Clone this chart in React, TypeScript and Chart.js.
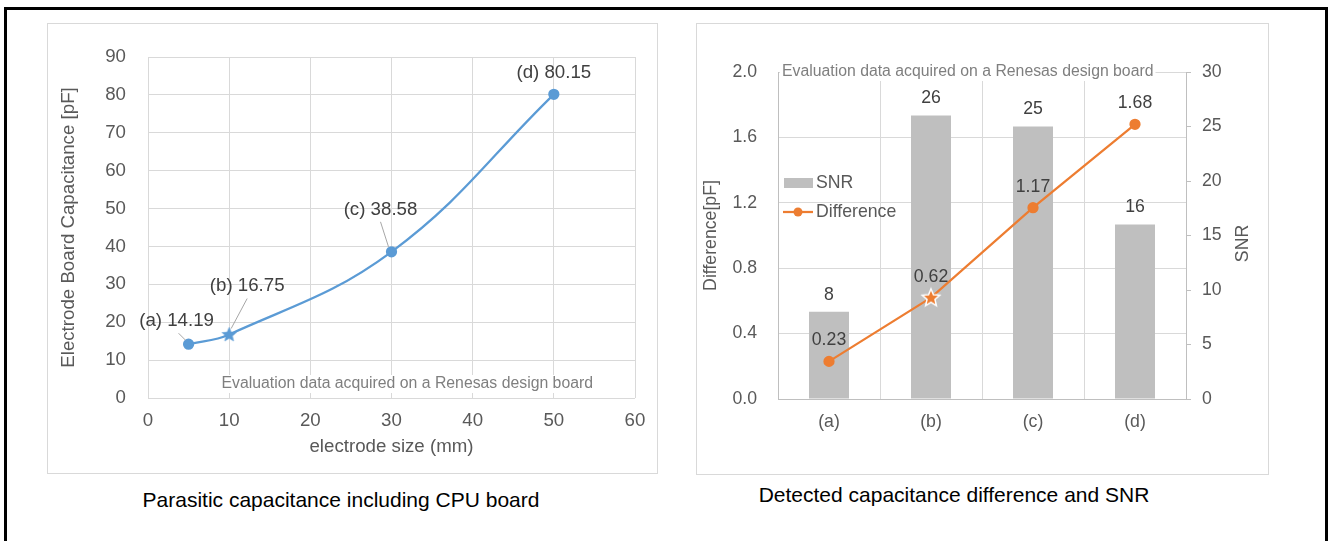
import React, { useEffect, useRef } from 'react';
import { Chart, registerables } from 'chart.js';

Chart.register(...registerables);

const FONT = '"Liberation Sans", Arial, Helvetica, sans-serif';
Chart.defaults.font.family = FONT;
Chart.defaults.color = '#595959';

// ---- data: left chart (parasitic capacitance) ----
const sizeMm = [5, 10, 30, 50];
const boardCapacitance = [14.19, 16.75, 38.58, 80.15];
const pointTags = ['(a)', '(b)', '(c)', '(d)'];

// ---- data: right chart (difference & SNR) ----
const categories = ['(a)', '(b)', '(c)', '(d)'];
const snrValues = [8, 26, 25, 16];
const differenceValues = [0.23, 0.62, 1.17, 1.68];

const starredIndex = 1;
const noteText = 'Evaluation data acquired on a Renesas design board';
const leftCaption = 'Parasitic capacitance including CPU board';
const rightCaption = 'Detected capacitance difference and SNR';
const snrAxisTitle = 'SNR';

// ---- styles ----
const BLUE = '#5B9BD5';
const ORANGE = '#ED7D31';
const BAR_GRAY = '#BFBFBF';
const GRID = '#D9D9D9';
const AXIS = '#BFBFBF';
const LABEL = '#404040';
const NOTE = '#7F7F7F';

const leftLabelPlacement = [
  { dx: -12, dy: -23, leader: [-10, -11, -3, -4] },
  { dx: 18, dy: -49, leader: [18, -36, 2, -6] },
  { dx: -11, dy: -42, leader: [-11, -30, -3, -5] },
  { dx: 0, dy: -21, leader: null as null | number[] },
];

function makeStar(outer: number, fill: string, stroke: string, lw: number) {
  const pad = lw + 1;
  const size = Math.ceil(outer * 2 + pad * 2);
  const c = document.createElement('canvas');
  c.width = size;
  c.height = size;
  const ctx = c.getContext('2d')!;
  const cx = size / 2;
  const cy = size / 2 + outer * 0.05;
  const inner = outer * 0.45;
  ctx.beginPath();
  for (let k = 0; k < 10; k++) {
    const r = k % 2 === 0 ? outer : inner;
    const a = -Math.PI / 2 + (k * Math.PI) / 5;
    const x = cx + r * Math.cos(a);
    const y = cy + r * Math.sin(a);
    if (k === 0) ctx.moveTo(x, y);
    else ctx.lineTo(x, y);
  }
  ctx.closePath();
  ctx.fillStyle = fill;
  ctx.fill();
  if (lw > 0) {
    ctx.strokeStyle = stroke;
    ctx.lineWidth = lw;
    ctx.lineJoin = 'miter';
    ctx.stroke();
  }
  return c;
}

export default function App() {
  const leftRef = useRef<HTMLCanvasElement | null>(null);
  const rightRef = useRef<HTMLCanvasElement | null>(null);

  useEffect(() => {
    const leftFont = 18.7;
    const rightFont = 17.7;
    const noteFont = 15.8;

    const blueStar = makeStar(7.6, BLUE, BLUE, 0.5);
    const orangeStar = makeStar(9.2, ORANGE, '#FFFFFF', 1.5);

    const leftPlugin = {
      id: 'leftAnnotations',
      beforeDatasetsDraw(chart: any) {
        const { ctx, chartArea } = chart;
        ctx.save();
        ctx.font = `${noteFont}px ${FONT}`;
        const w = ctx.measureText(noteText).width;
        const xR = chartArea.right - 42;
        const yC = chartArea.bottom - 14;
        ctx.fillStyle = '#FFFFFF';
        ctx.fillRect(xR - w - 2, yC - 9, w + 4, 18);
        ctx.fillStyle = NOTE;
        ctx.textAlign = 'right';
        ctx.textBaseline = 'middle';
        ctx.fillText(noteText, xR, yC);
        ctx.restore();
      },
      afterDatasetsDraw(chart: any) {
        const { ctx } = chart;
        const meta = chart.getDatasetMeta(0);
        ctx.save();
        ctx.font = `${leftFont}px ${FONT}`;
        ctx.textAlign = 'center';
        ctx.textBaseline = 'middle';
        meta.data.forEach((pt: any, i: number) => {
          const p = leftLabelPlacement[i];
          const l = p.leader;
          if (l) {
            ctx.strokeStyle = '#A6A6A6';
            ctx.lineWidth = 1;
            ctx.beginPath();
            ctx.moveTo(pt.x + l[0], pt.y + l[1]);
            ctx.lineTo(pt.x + l[2], pt.y + l[3]);
            ctx.stroke();
          }
          ctx.fillStyle = LABEL;
          ctx.fillText(`${pointTags[i]} ${boardCapacitance[i].toFixed(2)}`, pt.x + p.dx, pt.y + p.dy);
        });
        ctx.restore();
      },
    };

    const left = new Chart(leftRef.current!, {
      type: 'scatter',
      data: {
        datasets: [
          {
            label: 'Electrode Board Capacitance',
            data: sizeMm.map((x, i) => ({ x, y: boardCapacitance[i] })),
            showLine: true,
            borderColor: BLUE,
            backgroundColor: BLUE,
            borderWidth: 2.25,
            tension: 0.4,
            pointRadius: 4.5,
            pointBackgroundColor: BLUE,
            pointBorderColor: BLUE,
            pointStyle: sizeMm.map((_, i) => (i === starredIndex ? blueStar : 'circle')) as any,
          },
        ],
      },
      options: {
        animation: false,
        responsive: false,
        events: [],
        layout: { padding: { left: 0, top: 34, right: 23, bottom: 0 } },
        plugins: { legend: { display: false }, tooltip: { enabled: false } },
        scales: {
          x: {
            type: 'linear',
            min: 0,
            max: 60,
            ticks: { stepSize: 10, padding: 12, color: '#595959', font: { size: leftFont } },
            grid: { color: GRID, drawTicks: false },
            border: { display: false },
            title: {
              display: true,
              text: 'electrode size (mm)',
              color: '#595959',
              font: { size: leftFont },
              padding: { top: 0, bottom: 16 },
            },
            afterFit: (s: any) => {
              s.height = 76;
              s.paddingLeft = 0;
              s.paddingRight = 0;
            },
          },
          y: {
            type: 'linear',
            min: 0,
            max: 90,
            ticks: { stepSize: 10, padding: 22, color: '#595959', font: { size: leftFont } },
            grid: { color: GRID, drawTicks: false },
            border: { display: false },
            title: {
              display: true,
              text: 'Electrode Board Capacitance [pF]',
              color: '#595959',
              font: { size: leftFont },
              padding: { top: 11, bottom: 0 },
            },
            afterFit: (s: any) => {
              s.width = 101;
              s.paddingTop = 0;
              s.paddingBottom = 0;
            },
          },
        },
      } as any,
      plugins: [leftPlugin],
    });

    const rightPlugin = {
      id: 'rightAnnotations',
      beforeDatasetsDraw(chart: any) {
        const { ctx, chartArea } = chart;
        ctx.save();
        ctx.font = `${noteFont}px ${FONT}`;
        const w = ctx.measureText(noteText).width;
        const xL = chartArea.left + 4;
        const yC = chartArea.top;
        ctx.fillStyle = '#FFFFFF';
        ctx.fillRect(xL - 2, yC - 9, w + 4, 18);
        ctx.fillStyle = NOTE;
        ctx.textAlign = 'left';
        ctx.textBaseline = 'middle';
        ctx.fillText(noteText, xL, yC);
        ctx.restore();
      },
      afterDatasetsDraw(chart: any) {
        const { ctx, chartArea } = chart;
        ctx.save();
        ctx.font = `${rightFont}px ${FONT}`;
        ctx.textAlign = 'center';
        ctx.textBaseline = 'middle';
        ctx.fillStyle = LABEL;
        const barMeta = chart.getDatasetMeta(1);
        barMeta.data.forEach((bar: any, i: number) => {
          ctx.fillText(String(snrValues[i]), bar.x, bar.y - 17);
        });
        const lineMeta = chart.getDatasetMeta(0);
        lineMeta.data.forEach((pt: any, i: number) => {
          ctx.fillText(differenceValues[i].toFixed(2), pt.x, pt.y - 21);
        });

        // legend inside plot area
        const lx = chartArea.left + 6;
        const y1 = chartArea.top + 111;
        const y2 = chartArea.top + 140;
        const ds = chart.data.datasets;
        ctx.fillStyle = BAR_GRAY;
        ctx.fillRect(lx, y1 - 5, 29, 10);
        ctx.strokeStyle = ORANGE;
        ctx.lineWidth = 2.25;
        ctx.beginPath();
        ctx.moveTo(lx - 1, y2);
        ctx.lineTo(lx + 29, y2);
        ctx.stroke();
        ctx.fillStyle = ORANGE;
        ctx.beginPath();
        ctx.arc(lx + 14, y2, 4.5, 0, Math.PI * 2);
        ctx.fill();
        ctx.fillStyle = '#595959';
        ctx.textAlign = 'left';
        ctx.fillText(ds[1].label, lx + 32, y1);
        ctx.fillText(ds[0].label, lx + 32, y2);

        // secondary axis title, rotated like the primary one (reads bottom-to-top)
        const s2 = chart.scales.y2;
        ctx.save();
        ctx.translate(s2.right - 26, (chartArea.top + chartArea.bottom) / 2 + 8);
        ctx.rotate(-Math.PI / 2);
        ctx.textAlign = 'center';
        ctx.fillText(snrAxisTitle, 0, 0);
        ctx.restore();

        ctx.restore();
      },
    };

    const right = new Chart(rightRef.current!, {
      type: 'bar',
      data: {
        labels: categories,
        datasets: [
          {
            type: 'line',
            label: 'Difference',
            data: differenceValues,
            yAxisID: 'y',
            borderColor: ORANGE,
            backgroundColor: ORANGE,
            borderWidth: 2.25,
            tension: 0,
            pointRadius: 4.5,
            pointBackgroundColor: ORANGE,
            pointBorderColor: ORANGE,
            pointStyle: categories.map((_, i) => (i === starredIndex ? orangeStar : 'circle')) as any,
            order: 0,
          } as any,
          {
            type: 'bar',
            label: 'SNR',
            data: snrValues,
            yAxisID: 'y2',
            backgroundColor: BAR_GRAY,
            categoryPercentage: 1,
            barPercentage: 0.392,
            order: 1,
          },
        ],
      },
      options: {
        animation: false,
        responsive: false,
        events: [],
        layout: { padding: { left: 0, top: 49, right: 0, bottom: 0 } },
        plugins: { legend: { display: false }, tooltip: { enabled: false } },
        scales: {
          x: {
            grid: { color: GRID, drawTicks: false, offset: true },
            border: { display: true, color: AXIS },
            ticks: { padding: 12.4, color: '#595959', font: { size: rightFont } },
            afterFit: (s: any) => {
              s.height = 76;
              s.paddingLeft = 0;
              s.paddingRight = 0;
            },
          },
          y: {
            position: 'left',
            min: 0,
            max: 2,
            ticks: {
              stepSize: 0.4,
              padding: 21,
              color: '#595959',
              font: { size: rightFont },
              callback: (v: any) => Number(v).toFixed(1),
            },
            grid: { color: GRID, drawTicks: false },
            border: { display: true, color: AXIS },
            title: {
              display: true,
              text: 'Difference[pF]',
              color: '#595959',
              font: { size: rightFont },
              padding: { top: 4.4, bottom: 0 },
            },
            afterFit: (s: any) => {
              s.width = 82;
              s.paddingTop = 0;
              s.paddingBottom = 0;
            },
          },
          y2: {
            position: 'right',
            min: 0,
            max: 30,
            ticks: { stepSize: 5, padding: 11, color: '#595959', font: { size: rightFont } },
            grid: { drawOnChartArea: false, drawTicks: true, tickLength: 5, color: AXIS },
            border: { display: true, color: AXIS },
            title: { display: false },
            afterFit: (s: any) => {
              s.width = 83;
              s.paddingTop = 0;
              s.paddingBottom = 0;
            },
          },
        },
      } as any,
      plugins: [rightPlugin],
    });

    return () => {
      left.destroy();
      right.destroy();
    };
  }, []);

  const abs = (o: React.CSSProperties): React.CSSProperties => ({ position: 'absolute', boxSizing: 'border-box', ...o });

  return (
    <div
      style={{
        position: 'fixed',
        left: 0,
        top: 0,
        width: 1328,
        height: 541,
        overflow: 'hidden',
        background: '#FFFFFF',
        fontFamily: FONT,
      }}
    >
      <div style={abs({ left: 4, top: 7, width: 1324, height: 600, border: '3px solid #000000' })} />
      <div style={abs({ left: 47, top: 23, width: 611, height: 451, border: `1px solid ${GRID}` })} />
      <canvas ref={leftRef} width={611} height={451} style={{ position: 'absolute', left: 47, top: 23 }} />
      <div style={abs({ left: 696, top: 23, width: 573, height: 452, border: `1px solid ${GRID}` })} />
      <canvas ref={rightRef} width={573} height={452} style={{ position: 'absolute', left: 696, top: 23 }} />
      <div
        style={abs({
          left: 41,
          top: 488,
          width: 600,
          height: 24,
          lineHeight: '24px',
          fontSize: 21,
          color: '#000000',
          textAlign: 'center',
          whiteSpace: 'nowrap',
        })}
      >
        {leftCaption}
      </div>
      <div
        style={abs({
          left: 654,
          top: 483,
          width: 600,
          height: 24,
          lineHeight: '24px',
          fontSize: 21,
          color: '#000000',
          textAlign: 'center',
          whiteSpace: 'nowrap',
        })}
      >
        {rightCaption}
      </div>
    </div>
  );
}
